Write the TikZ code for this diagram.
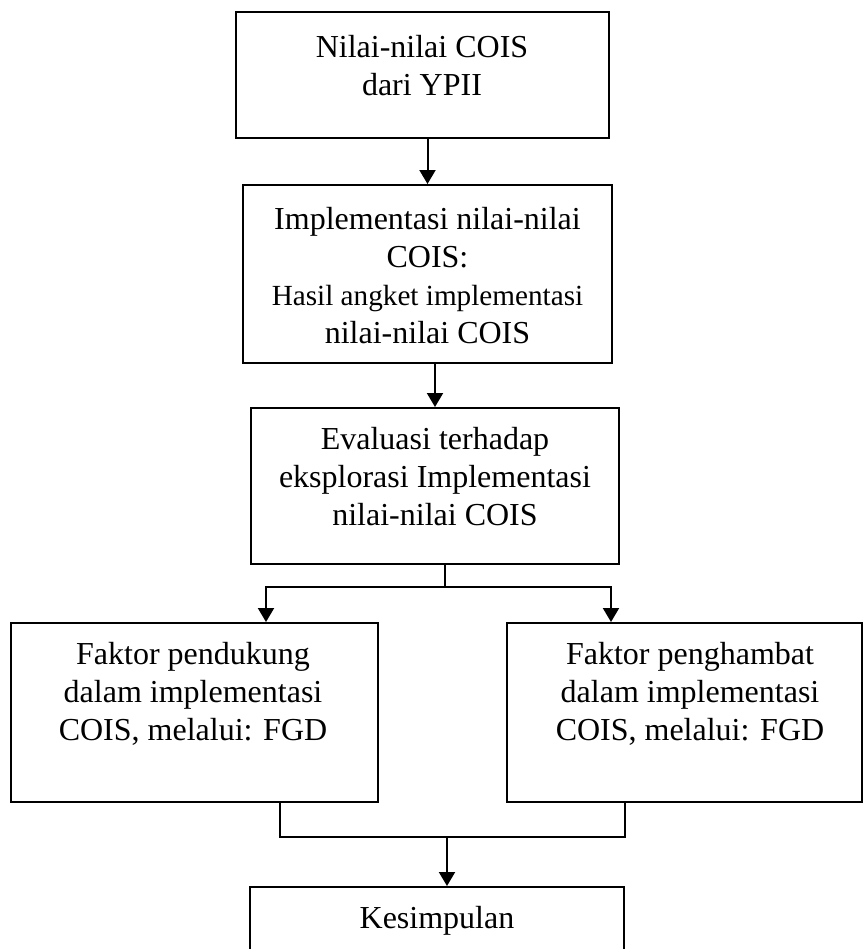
\documentclass[tikz,border=0pt]{standalone}
\usepackage{fontspec}
\setmainfont{Liberation Serif}
\usetikzlibrary{positioning}
\usetikzlibrary{arrows.meta}
\tikzset{>={Triangle[width=8pt,length=7pt]}}

\begin{document}
\begin{tikzpicture}[x=0.5pt, y=-0.5pt,
  kotak/.style={draw, line width=1pt, inner sep=0pt},
  teks/.style={align=center, font=\fontsize{16}{19}\selectfont, inner sep=0pt},
  panah/.style={->, line width=1pt},
  garis/.style={line width=0.6pt}]

% Batas gambar
\useasboundingbox (0,0) rectangle (864,949);
\clip (0,0) rectangle (864,949);

% Kotak
\node[kotak, minimum width=186.5pt, minimum height=63pt] (kotak1) at (422.5,75) {};
\node[kotak, minimum width=184.5pt, minimum height=89pt] (kotak2) at (427.5,274) {};
\node[kotak, minimum width=184pt, minimum height=78pt] (kotak3) at (435,486) {};
\node[kotak, minimum width=183.5pt, minimum height=89.5pt] (kotak4) at (194.5,712.5) {};
\node[kotak, minimum width=177.5pt, minimum height=89.5pt] (kotak5) at (684.5,712.5) {};
\node[kotak, minimum width=187pt, minimum height=45pt] (kotak6) at (437,932) {};

% Isi kotak
\node[teks] (isi1) at (422,65.5) {Nilai-nilai COIS\\dari YPII};
\node[teks] (isi2) at (427.5,275.5) {Implementasi nilai-nilai\\COIS:\\
  \fontsize{14.6}{18.5}\selectfont Hasil angket implementasi\\nilai-nilai COIS};
\node[teks] (isi3) at (435,477) {Evaluasi terhadap\\eksplorasi Implementasi\\nilai-nilai COIS};
\node[teks] (isi4) at (193,694) {Faktor pendukung\\dalam implementasi\\COIS, melalui: FGD};
\node[teks] (isi5) at (690,694) {Faktor penghambat\\dalam implementasi\\COIS, melalui: FGD};
\node[teks] (isi6) at (437,921) {Kesimpulan};

% Panah lurus
\draw[panah] (kotak1.south -| kotak2) -- (kotak2.north);
\draw[panah] (kotak2.south -| kotak3) -- (kotak3.north);

% Cabang ke dua faktor
\coordinate (cabang) at (445,587);
\coordinate (kiri) at (266,587);
\coordinate (kanan) at (611,587);
\draw[panah] (kotak3.south -| cabang) -- (cabang) -| (kotak5.north -| kanan);
\draw[panah] (cabang) -| (kotak4.north -| kiri);

% Gabung ke kesimpulan
\coordinate (tiangKiri) at (280,837);
\coordinate (tiangKanan) at (625,837);
\coordinate (gabung) at (447,837);
\draw[garis] (kotak4.south -| tiangKiri) -- (tiangKiri) -- (tiangKanan) -- (kotak5.south -| tiangKanan);
\draw[panah] (gabung) -- (kotak6.north -| gabung);

\end{tikzpicture}
\end{document}
